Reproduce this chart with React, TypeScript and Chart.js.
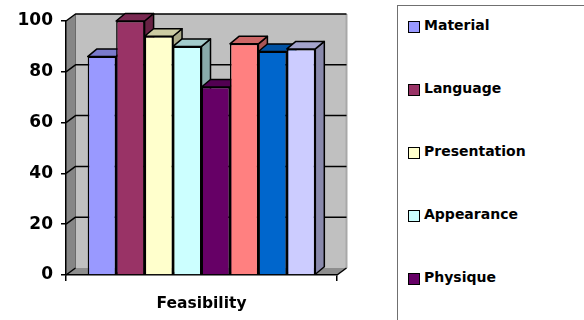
import React, { useEffect, useRef } from "react";
import { Chart, registerables } from "chart.js";

Chart.register(...registerables);

// ---- data ----
const categories = ["Feasibility"];
const seriesNames = [
  "Material",
  "Language",
  "Presentation",
  "Appearance",
  "Physique",
  "Series 6",
  "Series 7",
  "Series 8",
];
const seriesValues = [86, 100, 94, 90, 74, 91, 88, 89];
const seriesColors = [
  "#9999FF",
  "#993366",
  "#FFFFCC",
  "#CCFFFF",
  "#660066",
  "#FF8080",
  "#0066CC",
  "#CCCCFF",
];
const yTicks = [0, 20, 40, 60, 80, 100];

const DX = 9.5;
const DY = -7;
const BDX = 9;
const BDY = -7.5;

function shade(hex: string, f: number) {
  const n = parseInt(hex.slice(1), 16);
  const r = Math.round(((n >> 16) & 255) * f);
  const g = Math.round(((n >> 8) & 255) * f);
  const b = Math.round((n & 255) * f);
  return `rgb(${r},${g},${b})`;
}

function poly(ctx: CanvasRenderingContext2D, pts: number[][], fill?: string, stroke?: string, lw = 1.5) {
  ctx.beginPath();
  ctx.moveTo(pts[0][0], pts[0][1]);
  for (let i = 1; i < pts.length; i++) ctx.lineTo(pts[i][0], pts[i][1]);
  ctx.closePath();
  if (fill) {
    ctx.fillStyle = fill;
    ctx.fill();
  }
  if (stroke) {
    ctx.strokeStyle = stroke;
    ctx.lineWidth = lw;
    ctx.lineJoin = "round";
    ctx.stroke();
  }
}

const threeD = {
  id: "threeD",
  beforeDraw(chart: any) {
    const { ctx, chartArea } = chart;
    const { left, right, top, bottom } = chartArea;
    const ys = chart.scales.y;
    ctx.save();
    // back wall
    ctx.fillStyle = "#C0C0C0";
    ctx.fillRect(left + DX, top + DY, right - left, bottom - top);
    // left wall
    poly(ctx, [[left, top], [left + DX, top + DY], [left + DX, bottom + DY], [left, bottom]], "#868686");
    // floor
    poly(ctx, [[left, bottom], [right, bottom], [right + DX, bottom + DY], [left + DX, bottom + DY]], "#8E8E8E");
    // back wall right edge
    ctx.strokeStyle = "#A8A8A8";
    ctx.lineWidth = 2;
    ctx.beginPath();
    ctx.moveTo(right + DX, top + DY);
    ctx.lineTo(right + DX, bottom + DY);
    ctx.stroke();
    // back wall / left wall seam
    ctx.strokeStyle = "#6a6a6a";
    ctx.lineWidth = 1;
    ctx.beginPath();
    ctx.moveTo(left + DX, top + DY);
    ctx.lineTo(left + DX, bottom + DY);
    ctx.stroke();
    // gridlines
    ctx.strokeStyle = "#000";
    ctx.lineWidth = 1.5;
    ctx.lineJoin = "round";
    for (const v of yTicks) {
      const py = ys.getPixelForValue(v);
      ctx.beginPath();
      ctx.moveTo(left, py);
      ctx.lineTo(left + DX, py + DY);
      if (v !== 0) ctx.lineTo(right + DX, py + DY);
      ctx.stroke();
    }
    // floor right diagonal
    ctx.beginPath();
    ctx.moveTo(right, bottom);
    ctx.lineTo(right + DX, bottom + DY);
    ctx.stroke();
    ctx.restore();
  },
  beforeDatasetsDraw(chart: any) {
    const { ctx } = chart;
    ctx.save();
    chart.data.datasets.forEach((ds: any, i: number) => {
      const meta = chart.getDatasetMeta(i);
      const bar = meta.data[0];
      if (!bar) return;
      const { x, y, width, base } = bar.getProps(["x", "y", "width", "base"], true);
      const l = x - width / 2;
      const r = x + width / 2;
      const c = seriesColors[i];
      poly(ctx, [[r, y], [r + BDX, y + BDY], [r + BDX, base + BDY], [r, base]], shade(c, 0.67), "#000", 1.5);
      poly(ctx, [[l, y], [r, y], [r + BDX, y + BDY], [l + BDX, y + BDY]], shade(c, 0.8), "#000", 1.5);
    });
    ctx.restore();
  },
};

export default function App() {
  const ref = useRef<HTMLCanvasElement | null>(null);

  useEffect(() => {
    if (!ref.current) return;
    const chart = new Chart(ref.current, {
      type: "bar",
      data: {
        labels: categories,
        datasets: seriesNames.map((name, i) => ({
          label: name,
          data: [seriesValues[i]],
          backgroundColor: seriesColors[i],
          borderColor: "#000",
          borderWidth: 1.5,
          barPercentage: 1,
          categoryPercentage: 0.84,
        })),
      },
      options: {
        responsive: false,
        animation: false,
        layout: { padding: { left: 0, right: 53, top: 21, bottom: 0 } },
        plugins: { legend: { display: false }, tooltip: { enabled: false } },
        scales: {
          x: {
            offset: true,
            grid: { drawOnChartArea: false, color: "#000", tickLength: 6, lineWidth: 1.5, offset: true },
            border: { display: true, color: "#000", width: 1.5 },
            ticks: {
              color: "#000",
              padding: 14,
              font: { family: "DejaVu Sans", weight: "bold", size: 15.5 },
            },
            afterFit(scale: any) {
              scale.height = 45;
            },
          },
          y: {
            min: 0,
            max: 100,
            grid: { drawOnChartArea: false, color: "#000", tickLength: 5, lineWidth: 1.5 },
            border: { display: true, color: "#000", width: 1.5 },
            ticks: {
              stepSize: 20,
              color: "#000",
              padding: 8,
              font: { family: "DejaVu Sans", weight: "bold", size: 17 },
            },
            afterFit(scale: any) {
              scale.width = 66;
            },
          },
        },
      },
      plugins: [threeD],
    });
    return () => chart.destroy();
  }, []);

  return (
    <div
      style={{
        position: "fixed",
        left: 0,
        top: 0,
        width: 584,
        height: 320,
        overflow: "hidden",
        background: "#fff",
      }}
    >
      <canvas ref={ref} width={390} height={320} style={{ position: "absolute", left: 0, top: 0 }} />
      <div
        style={{
          position: "absolute",
          left: 397,
          top: 5,
          width: 200,
          height: 400,
          border: "1px solid #707070",
          boxSizing: "border-box",
          fontFamily: "DejaVu Sans",
          fontWeight: "bold",
          fontSize: 14,
          color: "#000",
        }}
      >
        {seriesNames.map((name, i) => (
          <div
            key={name}
            style={{
              position: "absolute",
              left: 10,
              top: 10 + i * 63,
              height: 18,
              display: "flex",
              alignItems: "center",
              whiteSpace: "nowrap",
            }}
          >
            <span
              style={{
                display: "inline-block",
                width: 10,
                height: 10,
                background: seriesColors[i],
                border: "1.5px solid #000",
                marginRight: 4,
                marginTop: 3,
              }}
            />
            <span>{name}</span>
          </div>
        ))}
      </div>
    </div>
  );
}
